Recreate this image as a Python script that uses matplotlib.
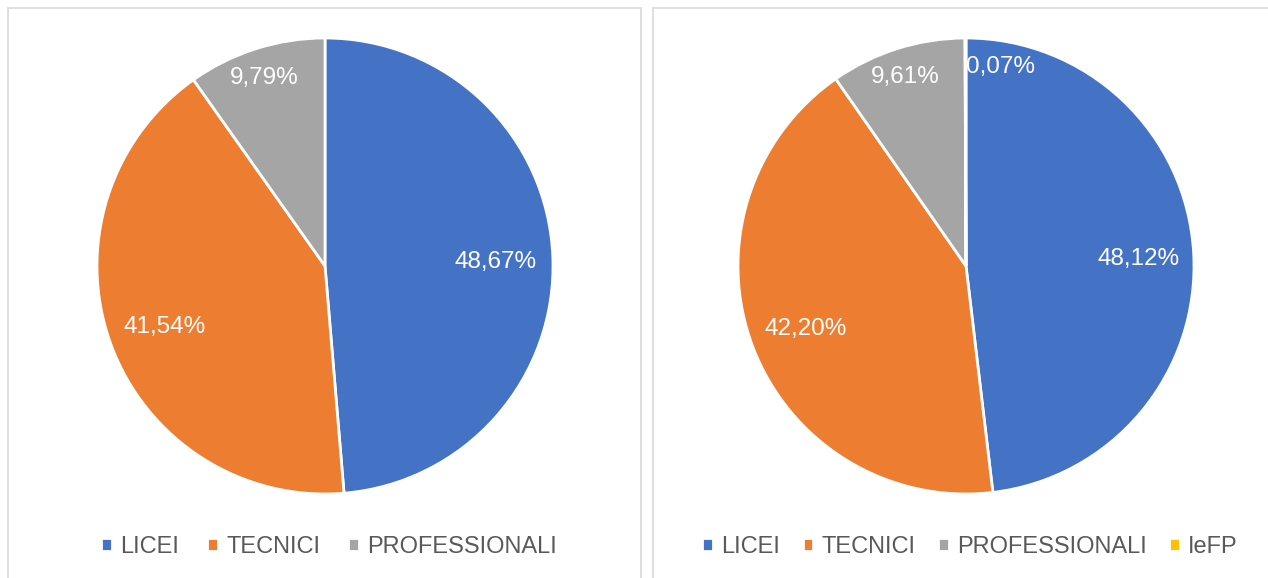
import matplotlib
matplotlib.use("Agg")
import matplotlib.pyplot as plt
import numpy as np
from matplotlib.patches import Rectangle

plt.rcParams['font.family'] = ['Liberation Sans', 'DejaVu Sans']

# data
left_labels = ["LICEI", "TECNICI", "PROFESSIONALI"]
left_values = [48.67, 41.54, 9.79]
right_labels = ["LICEI", "TECNICI", "PROFESSIONALI", "IeFP"]
right_values = [48.12, 42.20, 9.61, 0.07]

colors = ["#4472C4", "#ED7D31", "#A5A5A5", "#FFC000"]

W, H = 1268, 578
fig = plt.figure(figsize=(W / 100, H / 100), dpi=100)

# panel borders (pixel coords -> figure fraction)
def px_rect(x0, y0, x1, y1):
    return Rectangle((x0 / W, 1 - y1 / H), (x1 - x0) / W, (y1 - y0) / H,
                     transform=fig.transFigure, fill=False,
                     edgecolor="#D9D9D9", linewidth=1.2)

fig.patches.append(px_rect(8, 8, 641, 590))
fig.patches.append(px_rect(653, 8, 1280, 590))


def draw_pie(cx, cy, r, values, labels, dists, angle_shift, legend_x, colsp):
    ax = fig.add_axes([(cx - r) / W, 1 - (cy + r) / H, 2 * r / W, 2 * r / H])
    wedges, _ = ax.pie(values, colors=colors[:len(values)], startangle=90,
                       counterclock=False,
                       wedgeprops=dict(edgecolor="white", linewidth=2))
    ax.set_xlim(-1, 1)
    ax.set_ylim(-1, 1)
    ax.set_aspect("equal")
    ax.axis("off")
    for w, v, d, s in zip(wedges, values, dists, angle_shift):
        ang = np.deg2rad((w.theta1 + w.theta2) / 2 + s)
        ax.text(d * np.cos(ang), d * np.sin(ang) - 0.012,
                f"{v:.2f}%".replace(".", ","), color="white",
                fontsize=17.5, ha="center", va="center")
    leg = fig.legend(wedges, labels, loc="center", ncol=len(labels),
                     bbox_to_anchor=(legend_x / W, 1 - 547 / H),
                     frameon=False, fontsize=17, handlelength=0.45,
                     handleheight=0.45, handletextpad=0.35, columnspacing=colsp)
    for t in leg.get_texts():
        t.set_color("#595959")
    return ax


draw_pie(325, 266, 228, left_values, left_labels,
         [0.75, 0.75, 0.88], [0, 0, 0], 329, 1.2)
draw_pie(966, 266, 228, right_values, right_labels,
         [0.76, 0.75, 0.88, 0.90], [0, 0, 0, -9.9], 970, 0.95)

fig.savefig("out.png", dpi=100)
